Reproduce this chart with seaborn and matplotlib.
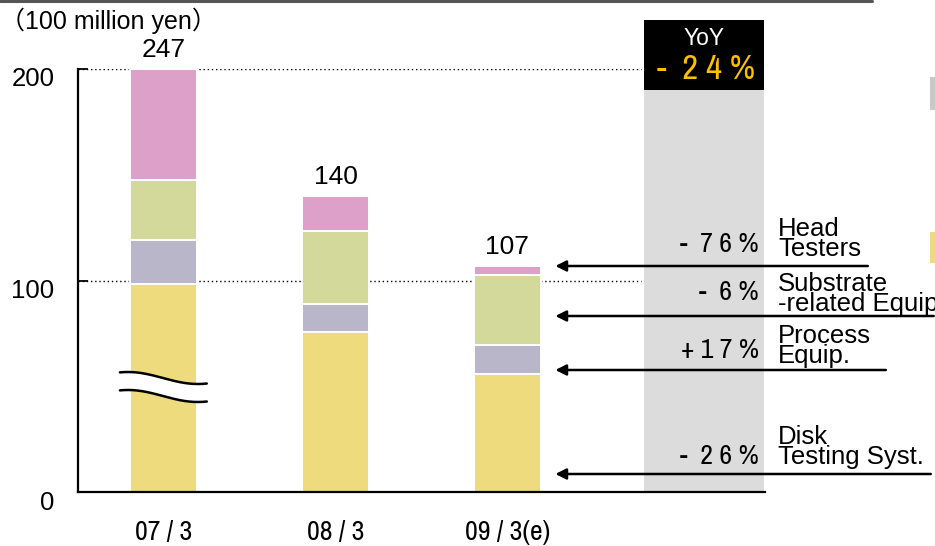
import numpy as np
import pandas as pd
import matplotlib
matplotlib.use("Agg")
import matplotlib.pyplot as plt
import matplotlib.transforms as mtrans
from matplotlib import font_manager
from matplotlib.font_manager import FontProperties
from matplotlib.patches import Rectangle
from matplotlib.lines import Line2D
import seaborn as sns

# ---- data (100 million yen) ----
periods = ["07/3", "08/3", "09/3(e)"]
disk_testing = [145.3, 75.7, 56.0]
process_equip = [20.8, 13.0, 13.5]
substrate_equip = [28.4, 34.7, 33.3]
head_testers = [52.5, 16.6, 4.1]
totals = [247, 140, 107]

segment_names = ["Disk\nTesting Syst.", "Process\nEquip.",
                 "Substrate\n-related Equip", "Head\nTesters"]
yoy_labels = ["-  2 6 %", "+ 1 7 %", "-  6 %", "-  7 6 %"]
yoy_total = "-  2 4 %"
y_ticks = [0, 100, 200]

colors = ["#EDDB7E", "#B9B6C9", "#D3D99B", "#DDA0C8"]

sns.set_theme(style="white")
plt.rcParams["font.family"] = ["Liberation Sans", "Noto Sans CJK JP", "DejaVu Sans"]
for key in ["text.color", "axes.labelcolor", "xtick.color", "ytick.color"]:
    plt.rcParams[key] = "black"


def narrow_font(size):
    """Pick a condensed sans face if one is installed."""
    fl = font_manager.fontManager.ttflist
    for f in fl:
        if f.name == "Liberation Sans Narrow" and f.weight in (400, "normal") and f.style == "normal":
            return FontProperties(fname=f.fname, size=size)
    for f in fl:
        n = f.name.lower()
        if ("narrow" in n or "condensed" in n) and f.style == "normal" and f.weight in (400, "normal", "regular"):
            return FontProperties(fname=f.fname, size=size)
    for f in fl:
        if f.stretch in ("condensed", "semi-condensed") and f.style == "normal" \
                and f.weight in (400, "normal") and "sans" in f.name.lower():
            return FontProperties(fname=f.fname, size=size)
    return FontProperties(family="Liberation Sans", size=size)


fig = plt.figure(figsize=(9.35, 5.46), dpi=100)
W, H = 935, 546
ax = fig.add_axes([78 / W, (H - 492) / H, (765 - 78) / W, (492 - 69) / H])

# 07/3 bar is drawn with a broken axis: its bottom segment is shortened
y_top = 200
cut = totals[0] - y_top
disk_shown = [disk_testing[0] - cut] + disk_testing[1:]

segments = np.array([disk_shown, process_equip, substrate_equip, head_testers])
cum = segments.cumsum(axis=0)

# stacked bars: draw cumulative heights from the top layer down
for i in range(3, -1, -1):
    df = pd.DataFrame({"period": periods, "value": cum[i]})
    sns.barplot(data=df, x="period", y="value", order=periods, color=colors[i],
                width=0.39, edgecolor="white", linewidth=1.4, saturation=1,
                ax=ax, zorder=3)

ax.set_xlim(-0.5, 3.5)
ax.set_ylim(0, y_top)
ax.set_xlabel("")
ax.set_ylabel("")

# spines and ticks
for s in ["top", "right"]:
    ax.spines[s].set_visible(False)
for s in ["left", "bottom"]:
    ax.spines[s].set_color("black")
    ax.spines[s].set_linewidth(1.6)
    ax.spines[s].set_zorder(6)

ax.set_xticks(range(len(periods)))
ax.set_xticklabels([p.replace("/", " / ") for p in periods])
for lab in ax.get_xticklabels():
    lab.set_fontproperties(narrow_font(20))
ax.set_xticks([0.5, 1.5, 2.5, 3.5], minor=True)
ax.tick_params(axis="x", which="major", length=0, pad=20)
ax.tick_params(axis="x", which="minor", direction="in", length=7, width=1.3, color="black")

ax.set_yticks(y_ticks)
ax.set_yticklabels([str(v) for v in y_ticks], fontsize=18.5)
ax.tick_params(axis="y", direction="in", length=7, width=1.3, color="black", pad=17, left=True)
off = mtrans.ScaledTranslation(0, -8 / 100, fig.dpi_scale_trans)
for lab in ax.get_yticklabels():
    lab.set_transform(lab.get_transform() + off)


# px -> data helpers for annotations
def dx(px):
    return (px - 78) / 172 - 0.5


def dy(py):
    return (492 - py) * 200 / 423


# YoY column
ax.add_patch(Rectangle((dx(645), 0), dx(765) - dx(645), dy(90), facecolor="#DCDCDC",
                       edgecolor="none", zorder=1, clip_on=False))
ax.add_patch(Rectangle((dx(645), dy(90)), dx(765) - dx(645), dy(20) - dy(90),
                       facecolor="black", edgecolor="none", zorder=1, clip_on=False))
ax.text(dx(705), dy(39), "YoY", color="white", ha="center", va="center",
        fontsize=16.5, clip_on=False)
ax.text(dx(707), dy(69), yoy_total, color="#FFC000", ha="center", va="center",
        fontproperties=narrow_font(25), clip_on=False)

# dotted reference lines
for v in [100, 200]:
    ax.plot([-0.5, dx(642)], [v, v], color="black", lw=1.0, ls=(0, (1, 2)), zorder=2)

# total labels
for i, t in enumerate(totals):
    ax.annotate(str(t), (i, cum[3][i]), xytext=(0, 5), textcoords="offset points",
                ha="center", va="bottom", fontsize=19)

# break mark on the 07/3 bar
xs = np.linspace(-0.256, 0.25, 200)
px = 78 + (xs + 0.5) * 172
upper_px = 378 - 6 * np.cos(2 * np.pi * (px - 128) / 140)
upper = dy(upper_px)
lower = dy(upper_px + 18)
ax.fill_between(xs, lower, upper, color="white", zorder=4, lw=0)
ax.plot(xs, upper, color="black", lw=1.8, zorder=5)
ax.plot(xs, lower, color="black", lw=1.8, zorder=5)

# segment call-outs with YoY change
callouts = [  # (arrow y px, tail x px, label centre y px, pct y px)
    (474, 932, 447, 457),
    (370, 887, 346, 350),
    (316, 935, 294, 292),
    (266, 869, 239, 245),
]
for (ay, tail, ly, py_), name, pct in zip(callouts, segment_names, yoy_labels):
    ax.annotate("", xy=(dx(556), dy(ay)), xytext=(dx(tail), dy(ay)),
                arrowprops=dict(arrowstyle="-|>", color="black", lw=1.8,
                                mutation_scale=16, shrinkA=0, shrinkB=0),
                annotation_clip=False, zorder=6)
    ax.text(dx(779), dy(ly), name, fontsize=18.5, ha="left", va="center",
            linespacing=0.82, clip_on=False)
    ax.text(dx(760), dy(py_), pct, ha="right", va="center",
            fontproperties=narrow_font(20), clip_on=False)

# unit label
fig.text(0 / W, 1 - 21 / H, "（100 million yen）", fontsize=18, ha="left", va="center")

# top rule and edge markers
fig.add_artist(Line2D([0, 872 / W], [1 - 1 / H, 1 - 1 / H], color="#555555", lw=2.2))
fig.add_artist(Rectangle((930 / W, 1 - 110 / H), 6 / W, 33 / H, facecolor="#C8C8C8",
                         edgecolor="none", transform=fig.transFigure))
fig.add_artist(Rectangle((930 / W, 1 - 263 / H), 6 / W, 31 / H, facecolor="#EDDB7E",
                         edgecolor="none", transform=fig.transFigure))

fig.savefig("out.png", dpi=100)
